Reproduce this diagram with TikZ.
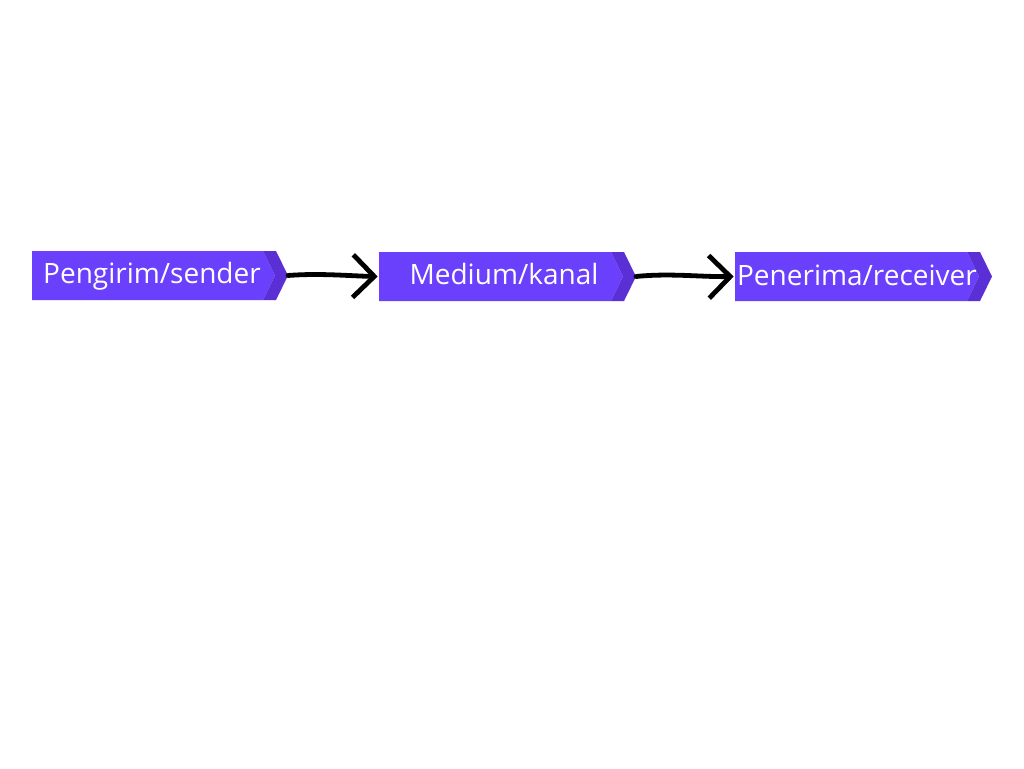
\documentclass[tikz,border=0pt]{standalone}
\usepackage{fontspec}
\setmainfont{Open Sans}
\usetikzlibrary{arrows.meta}
\definecolor{boxmain}{HTML}{6A40FC}
\definecolor{boxdark}{HTML}{5A2FD6}
\tikzset{
  lbl/.style={text=white, font=\fontsize{21pt}{24pt}\selectfont, inner sep=0pt, anchor=base},
  conn/.style={draw=black, line width=3.6pt, line cap=round, line join=round,
    -{Straight Barb[length=16pt,width=32pt,line width=3.6pt]}},
}
\newcommand\chevbox[6]{% name, left, right, tip, top, bottom
  \pgfmathsetmacro\midy{(#5+#6)/2}
  \fill[boxmain] (#2,#5) -- (#3,#5) -- ({#3+12},\midy) -- (#3,#6) -- (#2,#6) -- cycle;
  \fill[boxdark] (#3,#5) -- ({#4-12},#5) -- (#4,\midy) -- ({#4-12},#6) -- (#3,#6) -- ({#3+12},\midy) -- cycle;
  \coordinate (#1-west) at (#2,\midy);
  \coordinate (#1-tip) at (#4,\midy);
}
\begin{document}
\begin{tikzpicture}[x=0.75pt,y=-0.75pt]
\useasboundingbox (0,0) rectangle (1024,768);
\fill[white] (0,0) rectangle (1024,768);
\chevbox{a}{32}{263}{288}{251}{300}
\chevbox{b}{379}{611}{636}{252}{301}
\chevbox{c}{735}{967}{992}{252}{301}
\node[lbl] (ta) at (152,283) {Pengirim/sender};
\node[lbl] (tb) at (504,284) {Medium/kanal};
\node[lbl] (tc) at (857,285) {Penerima/receiver};
\draw[conn] (a-tip) .. controls (320,273) and (350,276) .. ([xshift=-1]b-west);
\draw[conn] (b-tip) .. controls (670,273) and (700,277) .. ([xshift=-1]c-west);
\end{tikzpicture}
\end{document}
